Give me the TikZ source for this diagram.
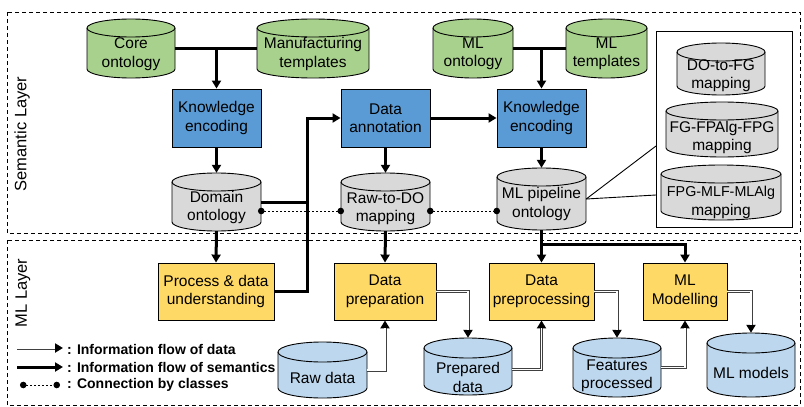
\documentclass[tikz,border=0pt]{standalone}
\usepackage{fontspec}
\setmainfont{Liberation Sans}
\usetikzlibrary{arrows.meta}
\definecolor{cgreen}{HTML}{A9D18E}
\definecolor{cblue}{HTML}{5B9BD5}
\definecolor{cgray}{HTML}{D9D9D9}
\definecolor{cyel}{HTML}{FFD966}
\definecolor{clblue}{HTML}{BDD7EE}
\newcommand\mkcyl[8]{%
  \pgfmathsetmacro\cylrx{(#4-#2)/2}%
  \filldraw[fill=#6,draw=black,line width=0.9pt] (#2,#3+\cylry) -- (#2,#5-\cylry)
    arc[start angle=180,end angle=360,x radius=\cylrx pt,y radius=\cylry pt] -- (#4,#3+\cylry)
    arc[start angle=0,end angle=180,x radius=\cylrx pt,y radius=\cylry pt] -- cycle;
  \draw[line width=0.9pt] (#2,#3+\cylry) arc[start angle=180,end angle=360,x radius=\cylrx pt,y radius=\cylry pt];
  \node[inner sep=0pt,minimum width={(#4-#2)*1pt},minimum height={(#5-#3)*1pt}] (#1) at ({(#2+#4)/2},{(#3+#5)/2}) {};
  \node[txt] (#1-t) at ([yshift=-#7pt]#1.center) {#8};
}
\begin{document}
\begin{tikzpicture}[x=1pt,y=-1pt,
  txt/.style={align=center,font=\fontsize{15.5}{18.5}\selectfont,inner sep=0pt},
  bbox/.style={draw=black,line width=0.9pt,align=center,inner sep=0pt,font=\fontsize{15.5}{18.5}\selectfont},
  layer/.style={draw=black,line width=0.9pt,dash pattern=on 4pt off 3pt},
  sem/.style={draw=black,line width=3pt},
  semarrow/.style={sem,-{Triangle[length=8pt,width=9pt]}},
  dflow/.style={draw=black!75,line width=3pt,-{Triangle[length=8pt,width=9pt,fill=black,color=black]},
     postaction={draw=white,line width=1.2pt,-,shorten >=8pt}},
  cls/.style={draw=black,line width=0.9pt,dash pattern=on 2pt off 2pt,{Circle[length=6.5pt]}-{Circle[length=6.5pt]},shorten <=-3.2pt,shorten >=-3.2pt},
  thinl/.style={draw=black,line width=0.9pt},
  legtxt/.style={font=\fontsize{14}{16}\selectfont\bfseries,inner sep=0pt,anchor=west}
]
\useasboundingbox (0,0) rectangle (804,407);
% layers
\draw[layer] (7,12) rectangle (800,233);
\draw[layer] (7,240) rectangle (800,405);
\node[rotate=90,font=\fontsize{16.5}{18}\selectfont,inner sep=0pt] (semlab) at (22,134) {Semantic Layer};
\node[rotate=90,font=\fontsize{16.5}{18}\selectfont,inner sep=0pt] (mllab) at (23,293) {ML Layer};
% inset
\node[draw=black,line width=0.9pt,minimum width=136pt,minimum height=196pt,inner sep=0pt] (inset) at (724,129) {};
\coordinate (ia) at (656,146);
\coordinate (ib) at (656,195);
% cylinders
\def\cylry{9}
\mkcyl{core}{87}{19}{175}{78}{cgreen}{5.5}{Core\\ontology}
\mkcyl{manu}{257}{19}{369}{78}{cgreen}{5.5}{Manufacturing\\templates}
\mkcyl{mlont}{433}{19}{513}{78}{cgreen}{5.5}{ML\\ontology}
\mkcyl{mltpl}{566}{19}{647}{78}{cgreen}{5.5}{ML\\templates}
\mkcyl{dom}{172}{173}{261}{231}{cgray}{5.5}{Domain\\ontology}
\mkcyl{rawdo}{341}{173}{430}{231}{cgray}{6.5}{Raw-to-DO\\mapping}
\mkcyl{mlp}{497}{168}{586}{230}{cgray}{5}{ML pipeline\\ontology}
\mkcyl{dofg}{677}{43}{765}{95}{cgray}{6.5}{DO-to-FG\\mapping}
\mkcyl{fgfp}{666}{102}{778}{157}{cgray}{8}{FG-FPAlg-FPG\\mapping}
\mkcyl{fpgm}{661}{165}{781}{220}{cgray}{10}{\fontsize{14.3}{18.5}\selectfont FPG-MLF-MLAlg\\mapping}
\def\cylry{10}
\mkcyl{rawd}{278}{342}{367}{398}{clblue}{8}{Raw data}
\mkcyl{prepd}{424}{338}{512}{395}{clblue}{11}{Prepared\\data}
\mkcyl{featp}{573}{338}{661}{397}{clblue}{8.5}{Features\\processed}
\mkcyl{mlmods}{707}{333}{795}{397}{clblue}{8}{ML models}
% boxes
\node[bbox,fill=cblue,minimum width=89pt,minimum height=58pt] (ke1) at (216.5,118) {Knowledge\\encoding};
\node[bbox,fill=cblue,minimum width=89pt,minimum height=58pt] (annot) at (385.5,118) {Data\\annotation};
\node[bbox,fill=cblue,minimum width=89pt,minimum height=58pt] (ke2) at (541.5,118) {Knowledge\\encoding};
\node[bbox,fill=cyel,minimum width=116pt,minimum height=57pt] (proc) at (216,291.5) {Process \& data\\understanding};
\node[bbox,fill=cyel,minimum width=102pt,minimum height=57pt] (prep) at (385,291.5) {Data\\preparation};
\node[bbox,fill=cyel,minimum width=105pt,minimum height=57pt] (preproc) at (541.5,291.5) {Data\\preprocessing};
\node[bbox,fill=cyel,minimum width=84pt,minimum height=57pt] (mlmod) at (685,291.5) {ML\\Modelling};
% semantic flow
\coordinate (bend) at (307,118);
\coordinate (j3) at (541.5,244);
\draw[sem] (core.east) -- (manu.west);
\draw[semarrow] (core.east -| ke1.north) -- (ke1.north);
\draw[sem] (mlont.east) -- (mltpl.west);
\draw[semarrow] (mlont.east -| ke2.north) -- (ke2.north);
\draw[semarrow] (ke1.south) -- (dom.north);
\draw[semarrow] (dom.south) -- (proc.north);
\draw[semarrow] (proc.east) -| (bend) -- (annot.west);
\draw[sem] (dom.east) -- (dom.east -| bend);
\draw[semarrow] (annot.south) -- (rawdo.north);
\draw[semarrow] (rawdo.south) -- (prep.north);
\draw[semarrow] (annot.east) -- (ke2.west);
\draw[semarrow] (ke2.south) -- (mlp.north);
\draw[semarrow] (mlp.south) -- (preproc.north);
\draw[semarrow] (j3) -| (mlmod.north);
% class connections
\draw[cls] ([yshift=-9pt]dom.east) -- ([yshift=-9pt]rawdo.west);
\draw[cls] ([yshift=-9pt]rawdo.east) -- ([yshift=-12pt]mlp.west);
% inset lines
\draw[thinl] (mlp.east) -- (ia);
\draw[thinl] (mlp.east) -- (ib);
% data flow
\draw[dflow] (rawd.east) -| (prep.south);
\draw[dflow] (prep.east) -| (prepd.north);
\draw[dflow] ([yshift=-3pt]prepd.east) -| (preproc.south);
\draw[dflow] (preproc.east) -| (featp.north);
\draw[dflow] (featp.east) -| (mlmod.south);
\draw[dflow] (mlmod.east) -| (mlmods.north);
% legend
\coordinate (l1a) at (17,348); \coordinate (l1b) at (63,348);
\coordinate (l2a) at (17,367); \coordinate (l2b) at (63,367);
\coordinate (l3a) at (20,385); \coordinate (l3b) at (60,385);
\draw[dflow] (l1a) -- (l1b);
\draw[semarrow] (l2a) -- (l2b);
\draw[cls,shorten <=0pt,shorten >=0pt] (l3a) -- (l3b);
\node[legtxt] (lt1) at (67,349) {: Information flow of data};
\node[legtxt] (lt2) at (67,367) {: Information flow of semantics};
\node[legtxt] (lt3) at (67,385) {: Connection by classes};
\end{tikzpicture}
\end{document}
